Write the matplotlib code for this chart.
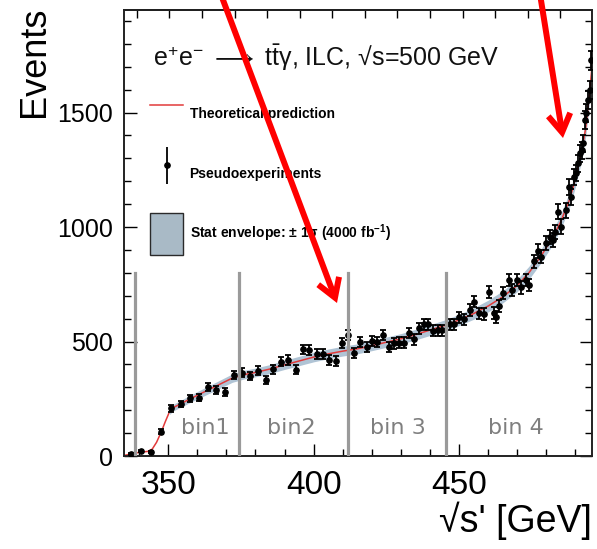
import matplotlib
matplotlib.use("Agg")
import matplotlib.pyplot as plt
import numpy as np
from matplotlib.lines import Line2D
from matplotlib.patches import Patch, FancyArrowPatch
from matplotlib.legend_handler import HandlerErrorbar
from matplotlib.container import ErrorbarContainer

plt.rcParams['font.family'] = ['Liberation Sans', 'DejaVu Sans']
plt.rcParams['mathtext.fontset'] = 'custom'
plt.rcParams['mathtext.rm'] = 'Liberation Sans'
plt.rcParams['mathtext.it'] = 'Liberation Sans:italic'
plt.rcParams['mathtext.bf'] = 'Liberation Sans:bold'

# ---- data ----
theory_x = [335, 337, 340, 343, 344.5, 346, 347.6, 349,
            350.5, 351.5, 354, 357, 360, 364, 368, 372, 376, 380,
            385, 390, 395, 400, 405, 410, 415, 420, 425, 430,
            435, 440, 445, 450, 455, 460, 465, 470, 474, 478,
            482, 485, 488, 490, 492, 493.5, 494.5, 495.7]
theory_y = [3, 8, 16, 20, 30, 60, 105, 150,
            195, 210, 226, 246, 265, 290, 315, 340, 355, 365,
            380, 398, 415, 432, 446, 458, 468, 482, 497, 512,
            530, 550, 570, 594, 622, 655, 695, 745, 800, 870,
            950, 1025, 1120, 1210, 1320, 1430, 1540, 1700]
band_sigma = [0, 0, 0, 0, 0, 0, 0, 0,
              14, 14.5, 15, 15.7, 16.3, 17, 17.7, 18.4, 18.8, 19.1,
              19.5, 20, 20.4, 20.8, 21.1, 21.4, 21.6, 22, 22.3, 22.6,
              23, 23.5, 23.9, 24.4, 24.9, 25.6, 26.4, 27.3, 28.3, 29.5,
              30.8, 32, 33.5, 34.8, 36.3, 37.8, 39.2, 41.2]

pts_x = [337.1, 340.5, 344.2, 347.6, 351.0, 354.3, 357.5, 360.7, 363.7, 366.6,
         369.6, 372.6, 375.4, 378.1, 381.0, 383.6, 386.1, 388.7, 391.2, 393.8,
         396.2, 398.5, 401.0, 403.1, 405.3, 407.6, 409.9, 411.9, 413.8, 416.1,
         418.2, 420.1, 421.8, 423.9, 425.8, 427.7, 429.4, 431.1, 432.8, 434.4,
         436.2, 437.9, 439.3, 441.1, 442.8, 444.2, 446.8, 448.2, 449.9, 451.6,
         453.7, 455.2, 456.8, 458.5, 460.3, 461.9, 462.8, 463.7, 465.1, 467.1,
         468.3, 469.9, 471.4, 472.9, 474.1, 475.7, 477.0, 478.3, 480.0, 481.4,
         482.3, 483.1, 484.0, 485.2, 486.9, 487.8, 488.6, 489.4, 490.3, 490.9,
         491.5, 492.1, 492.6, 493.2, 493.8, 494.3, 494.9, 495.2]
pts_y = [9, 23, 19, 106, 208, 227, 252, 255, 300, 288,
         278, 354, 364, 349, 373, 332, 379, 412, 419, 376,
         466, 463, 445, 445, 419, 416, 495, 528, 448, 499,
         477, 502, 496, 528, 475, 492, 495, 495, 538, 510,
         558, 575, 575, 547, 550, 550, 576, 576, 606, 597,
         638, 674, 623, 620, 717, 623, 608, 655, 710, 769,
         725, 769, 737, 769, 747, 850, 895, 870, 929, 958,
         943, 980, 1067, 1001, 1074, 1176, 1132, 1220, 1234, 1278,
         1322, 1336, 1365, 1467, 1497, 1555, 1598, 1729]
pts_err = [4, 5, 5, 10, 14, 15, 16, 16, 17, 17,
           17, 19, 19, 19, 19, 19, 19, 20, 20, 20,
           21, 21, 21, 21, 21, 21, 22, 22, 22, 22,
           22, 22, 22, 22, 22, 23, 23, 23, 23, 23,
           23, 23, 23, 24, 24, 24, 24, 24, 24, 25,
           25, 25, 25, 25, 26, 26, 26, 26, 26, 27,
           27, 27, 28, 28, 28, 29, 29, 29, 30, 31,
           31, 31, 32, 32, 33, 34, 34, 35, 35, 36,
           36, 37, 37, 38, 39, 39, 40, 41]

bin_edges = [338.7, 374.3, 411.8, 445.5]
bin_line_top = 800
bin_labels = ["bin1", "bin2", "bin 3", "bin 4"]
bin_label_x = [362.6, 392.4, 428.9, 469.4]
bin_label_y = 95

top_ticks = [339.2, 350.4, 361.6, 372.8, 384.0, 395.2, 406.4, 417.6,
             428.8, 440.0, 451.2, 462.4, 473.6, 484.8]

# ---- figure ----
W, H = 597, 549
fig = plt.figure(figsize=(W / 100, H / 100), dpi=100)
ax = fig.add_axes([124 / W, 1 - 456 / H, (592 - 124) / W, (456 - 10) / H])
ax.set_xlim(334.8, 495.7)
ax.set_ylim(0, 1948)

tx = np.array(theory_x)
ty = np.array(theory_y)
sg = np.array(band_sigma)
mask = tx >= 350.5
ax.fill_between(tx[mask], (ty - sg)[mask], (ty + sg)[mask],
                color='#acc1d3', alpha=0.95, lw=0, zorder=1)
ax.plot(tx, ty, color='#e23a3a', lw=1.1, zorder=2)
ax.errorbar(pts_x, pts_y, yerr=pts_err, fmt='o', color='black', ms=3.8,
            elinewidth=1.3, capsize=2.2, capthick=1.3, zorder=3)

for xe in bin_edges:
    ax.plot([xe, xe], [0, bin_line_top], color='#9a9a9a', lw=2.3, zorder=4)
for lab, lx in zip(bin_labels, bin_label_x):
    ax.text(lx, bin_label_y, lab, ha='center', va='baseline', fontsize=16,
            color='#7f7f7f', family='DejaVu Sans', zorder=5)

# ticks
ax.set_xticks([350, 400, 450])
ax.set_xticks(np.arange(340, 496, 10), minor=True)
ax.set_yticks([0, 500, 1000, 1500])
ax.set_yticks(np.arange(0, 1948, 100), minor=True)
ax.tick_params(axis='both', which='both', direction='in', top=False, right=True)
ax.tick_params(axis='x', which='major', length=9, width=1, labelsize=24, pad=10)
ax.tick_params(axis='x', which='minor', length=5, width=1)
ax.tick_params(axis='y', which='major', length=9, width=1, labelsize=18, pad=8)
ax.tick_params(axis='y', which='minor', length=5, width=1)
secax = ax.secondary_xaxis('top')
secax.set_xticks(top_ticks)
secax.set_xticklabels([])
secax.tick_params(direction='in', length=6, width=1)
secax.spines['top'].set_linewidth(1.4)
for s in ax.spines.values():
    s.set_linewidth(1.4)
    s.set_color('#222222')

ax.set_xlabel("√s' [GeV]", fontsize=27, loc='right')
ax.xaxis.set_label_coords(1.0, (456 - 540) / 446)
ax.xaxis.label.set_va('bottom')
ax.set_ylabel("Events", fontsize=26, loc='top')
ax.yaxis.set_label_coords((52 - 124) / 468, (456 - 7) / 446)

ax.text((153 - 124) / 468, (456 - 58) / 446,
        r"e$^{\mathregular{+}}$e$^{\mathregular{-}}$ $\longrightarrow$ t$\mathregular{\bar{t}}$γ, ILC, √s=500 GeV",
        transform=ax.transAxes, fontsize=18, va='center', ha='left', color='#111111')

# legend
h_line = Line2D([], [], color='#e23a3a', lw=1.1)
h_err = ax.errorbar([], [], yerr=[], fmt='o', color='black', ms=3.8,
                    elinewidth=1.3, capsize=2.2, capthick=1.3)
h_patch = Patch(facecolor='#a9bac6', edgecolor='#2a2a2a', lw=1.0)
leg = ax.legend([h_line, h_err, h_patch],
                ["Theoretical prediction", "Pseudoexperiments",
                 r"Stat envelope: ± 1σ (4000 fb$^{\mathbf{-1}}$)"],
                loc='upper left', bbox_to_anchor=(150 / W, 1 - 93 / H),
                bbox_transform=fig.transFigure, frameon=False, borderpad=0,
                borderaxespad=0, handlelength=2.4, handleheight=4.27,
                labelspacing=1.3, handletextpad=0.45,
                prop={'weight': 'bold', 'size': 10},
                handler_map={ErrorbarContainer: HandlerErrorbar(yerr_size=1.33)})

# red annotation arrows (figure pixel coordinates)
for (x0, y0), (x1, y1) in [((220, -8), (337, 303)), ((540, -6), (563, 138))]:
    arr = FancyArrowPatch((x0, H - y0), (x1, H - y1), transform=None,
                          arrowstyle='->,head_length=13,head_width=8',
                          mutation_scale=1, color='#ff0000', lw=4.3,
                          shrinkA=0, shrinkB=0, zorder=10,
                          joinstyle='miter', capstyle='butt')
    fig.add_artist(arr)

fig.savefig('out.png', dpi=100)
